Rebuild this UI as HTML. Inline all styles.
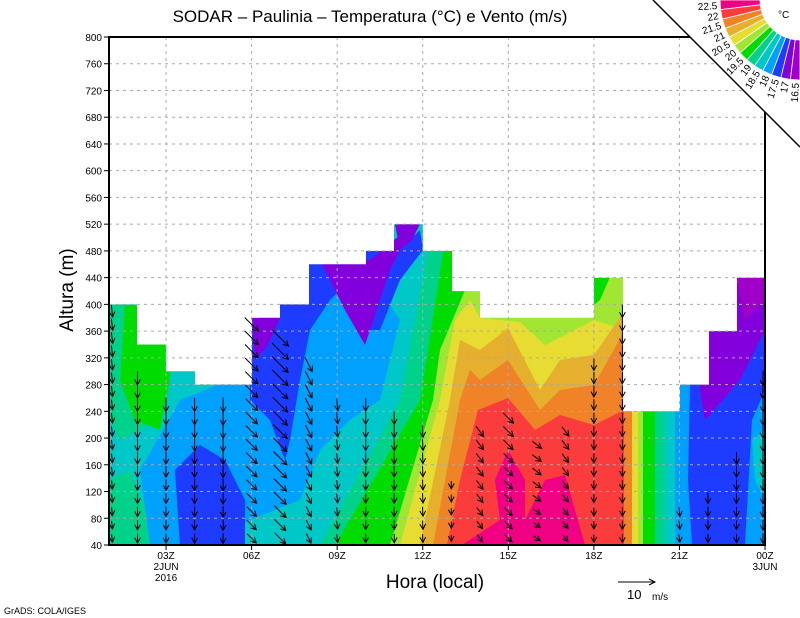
<!DOCTYPE html>
<html><head><meta charset="utf-8"><style>
body{margin:0;background:#fff;width:800px;height:618px;overflow:hidden}
svg{display:block;font-family:"Liberation Sans",sans-serif}
</style></head><body>
<svg id="s" width="800" height="618" viewBox="0 0 800 618" xmlns="http://www.w3.org/2000/svg">
<defs><clipPath id="pc"><rect x="109" y="37" width="656" height="508"/></clipPath></defs>
<g clip-path="url(#pc)">
<rect x="109" y="37" width="656" height="508" fill="#00c8c8"/>
<!-- left region -->
<polygon points="109,300 180,300 175,360 160,420 120,440 109,420" fill="#00d28c"/>
<polygon points="125,305 165,305 170,380 160,430 135,420 120,380" fill="#00dc00"/>
<polygon points="109,480 130,470 150,520 160,545 109,545" fill="#00d28c"/>
<polygon points="140,470 180,400 230,380 250,330 290,330 300,280 330,290 360,300 380,290 400,320 380,400 350,420 320,450 300,500 250,520 200,545 150,545" fill="#00a0ff"/>
<polygon points="175,470 200,445 225,460 245,500 245,545 180,545" fill="#1e3cff"/>
<polygon points="250,330 270,300 300,290 330,300 310,330 300,380 290,440 285,460 270,420 250,400" fill="#1e3cff"/>
<polygon points="300,250 400,250 420,230 423,250 400,280 380,330 360,330 340,290 330,300 300,300" fill="#1e3cff"/>
<polygon points="252,318 280,318 268,345 255,360" fill="#8200dc"/>
<polygon points="320,260 370,260 400,235 410,230 390,270 365,345 345,310 330,280" fill="#8200dc"/>
<polygon points="395,224 420,224 412,240 400,250" fill="#8200dc"/>
<!-- diagonal warm bands -->
<polygon points="430,240 400,400 320,545 625,545 625,200 440,200" fill="#00d28c"/>
<polygon points="445,240 420,400 335,545 625,545 625,200 452,200" fill="#00dc00"/>
<polygon points="455,250 465,290 440,350 433,400 390,545 625,545 625,200 460,200" fill="#a0e632"/>
<polygon points="470,300 455,320 440,400 400,545 625,545 625,330 594,320 545,345 520,322 480,318" fill="#e6dc32"/>
<polygon points="460,340 480,350 508,328 540,390 560,360 594,355 625,310 625,545 420,545 450,400" fill="#e6af2d"/>
<polygon points="470,370 480,380 508,360 540,410 560,390 594,385 625,330 625,545 433,545 460,400" fill="#f08228"/>
<polygon points="478,410 508,398 535,430 560,415 594,425 624,410 624,545 447,545 460,480" fill="#fa3c3c"/>
<polygon points="462,545 500,520 495,480 508,450 525,480 525,520 545,480 565,475 585,545" fill="#f00082"/>
<polygon points="594,277 610,277 600,300 594,305" fill="#00dc00"/>
<!-- 19-21Z -->
<rect x="624" y="411" width="8" height="134" fill="#f08228"/>
<rect x="632" y="411" width="6" height="134" fill="#e6dc32"/>
<rect x="638" y="411" width="5" height="134" fill="#a0e632"/>
<rect x="643" y="411" width="12" height="134" fill="#00dc00"/>
<rect x="655" y="411" width="10" height="134" fill="#00d28c"/>
<rect x="665" y="411" width="10" height="134" fill="#00c8c8"/>
<rect x="675" y="411" width="90" height="134" fill="#00a0ff"/>
<rect x="680" y="250" width="85" height="161" fill="#00a0ff"/>
<polygon points="690,384 765,300 765,390 752,420 745,545 692,545 688,480" fill="#1e3cff"/>
<polygon points="700,300 765,270 765,330 740,380 705,420 700,390" fill="#8200dc"/>
<polygon points="735,270 765,270 765,300 745,320" fill="#a000c8"/>
<polygon points="752,440 765,430 765,500 755,480" fill="#00c8c8"/>
<!-- white mask above profiles -->
<polygon fill="#fff" points="109,37 765,37 765,277.7 737,277.7 737,331.1 709,331.1 709,384.6 680,384.6 680,411.3 623,411.3 623,277.7 594,277.7 594,317.8 480,317.8 480,291.1 452,291.1 452,250.9 423,250.9 423,224.2 394,224.2 394,250.9 366,250.9 366,264.3 309,264.3 309,304.4 280,304.4 280,317.8 252,317.8 252,384.6 195,384.6 195,371.2 166,371.2 166,344.5 137,344.5 137,304.4 109,304.4"/>
</g>
<g id="grid" stroke="#aaa" stroke-dasharray="3,4" stroke-width="1"></g>
<g id="arr" stroke="#000" stroke-width="1" fill="none"></g>
<rect x="109" y="37" width="656" height="508" fill="none" stroke="#000" stroke-width="2"/>
<g id="ticks" font-size="10" fill="#000"></g>
<polygon points="653,0 800,0 800,147" fill="#fff"/>
<line x1="653" y1="0" x2="800" y2="147" stroke="#000" stroke-width="1.5"/>
<g id="fan"></g>
<text x="778" y="18" font-size="10">°C</text>
<text x="370" y="22" font-size="17" text-anchor="middle">SODAR – Paulinia – Temperatura (°C) e Vento (m/s)</text>
<text x="435" y="588" font-size="19" text-anchor="middle">Hora (local)</text>
<text transform="translate(73,290) rotate(-90)" font-size="19" text-anchor="middle">Altura (m)</text>
<text x="4" y="614" font-size="9">GrADS: COLA/IGES</text>
<line x1="618" y1="582" x2="655" y2="582" stroke="#000"/>
<polyline points="649,579 655,582 649,585" fill="none" stroke="#000"/>
<text x="627" y="599" font-size="13">10</text><text x="652" y="600" font-size="10">m/s</text>
</svg>
<script>
var NS="http://www.w3.org/2000/svg";
function el(p,t,a,txt){var e=document.createElementNS(NS,t);for(var k in a)e.setAttribute(k,a[k]);if(txt!==undefined)e.textContent=txt;document.getElementById(p).appendChild(e);return e;}
function Y(h){return 545-(h-40)*508/760;}
function X(i){return 109+i*656/23;}
for(var h=80;h<=760;h+=40)el("grid","line",{x1:109,x2:765,y1:Y(h),y2:Y(h)});
for(var i=2;i<23;i+=3)el("grid","line",{x1:X(i),x2:X(i),y1:37,y2:545});
for(var h=40;h<=800;h+=40){el("ticks","line",{x1:104,x2:109,y1:Y(h),y2:Y(h),stroke:"#000"});el("ticks","text",{x:102,y:Y(h)+4,"text-anchor":"end"},h);}
var lab=["03Z","06Z","09Z","12Z","15Z","18Z","21Z","00Z"];
for(var j=0;j<8;j++){var x=X(2+3*j);el("ticks","line",{x1:x,x2:x,y1:545,y2:550,stroke:"#000"});el("ticks","text",{x:x,y:559,"text-anchor":"middle"},lab[j]);}
el("ticks","text",{x:X(2),y:570,"text-anchor":"middle"},"2JUN");
el("ticks","text",{x:X(2),y:581,"text-anchor":"middle"},"2016");
el("ticks","text",{x:X(23),y:570,"text-anchor":"middle"},"3JUN");
var cols=["#f00082","#fa3c3c","#f08228","#e6af2d","#e6dc32","#a0e632","#00dc00","#00d28c","#00c8c8","#00a0ff","#1e3cff","#8200dc","#a000c8"];
var labs=["22.5","22","21.5","21","20.5","20","19.5","19","18.5","18","17.5","17","16.5"];
var cx=800,cy=0,r1=40,r2=80,n=13;
function P(r,t){return (cx+r*Math.cos(t)).toFixed(1)+","+(cy+r*Math.sin(t)).toFixed(1);}
for(var k=0;k<n;k++){
 var t0=Math.PI-k*(Math.PI/2)/n, t1=Math.PI-(k+1)*(Math.PI/2)/n;
 el("fan","polygon",{points:P(r1,t0)+" "+P(r2,t0)+" "+P(r2,t1)+" "+P(r1,t1),fill:cols[k],stroke:"#fff","stroke-width":"0.8"});
 var tm=(t0+t1)/2, rx=cx+(r2+3)*Math.cos(tm), ry=cy+(r2+3)*Math.sin(tm);
 var deg=tm*180/Math.PI-180;
 el("fan","text",{x:0,y:0,"font-size":"10","text-anchor":"end",transform:"translate("+rx.toFixed(1)+","+ry.toFixed(1)+") rotate("+deg.toFixed(1)+") translate(0,4)"},labs[k]);
}
var spec=[
[0,400,0.1,1,12],[1,300,0,1,14],[2,260,0,1,14],[3,260,0,1,14],[4,260,0,1,15],
[5,380,0.7,0.7,20],[6,360,0.7,0.7,24],[7,320,0.45,0.9,16],[8,260,0.1,1,12],[9,260,0,1,13],
[10,240,0,1,13],[11,220,0.05,1,12],[12,140,0,1,8],[13,220,0.6,0.8,13],[14,240,0.7,0.7,15],
[15,200,0.8,0.6,12],[16,220,0.6,0.8,12],[17,320,0,1,12],[18,400,0,1,13],[20,100,0.1,1,10],
[21,120,0,1,11],[22,180,0,1,12],[23,300,0,1,15]];
spec.forEach(function(s){
 var x=X(s[0])+(s[0]==0?3:(s[0]==23?-2:0));
 for(var h=50;h<=s[1];h+=20){
  var y=Y(h),L=s[4]*(0.6+0.4*(h/s[1])),dx=s[2]*L,dy=s[3]*L;
  var x0=x-dx/2,y0=y-dy/2,x1=x+dx/2,y1=y+dy/2;
  el("arr","line",{x1:x0.toFixed(1),y1:y0.toFixed(1),x2:x1.toFixed(1),y2:y1.toFixed(1)});
  var a=Math.atan2(dy,dx),hl=6;
  var p1=(x1-hl*Math.cos(a-0.5)).toFixed(1)+","+(y1-hl*Math.sin(a-0.5)).toFixed(1);
  var p2=(x1-hl*Math.cos(a+0.5)).toFixed(1)+","+(y1-hl*Math.sin(a+0.5)).toFixed(1);
  el("arr","polyline",{points:p1+" "+x1.toFixed(1)+","+y1.toFixed(1)+" "+p2});
 }
});
</script>
</body></html>
